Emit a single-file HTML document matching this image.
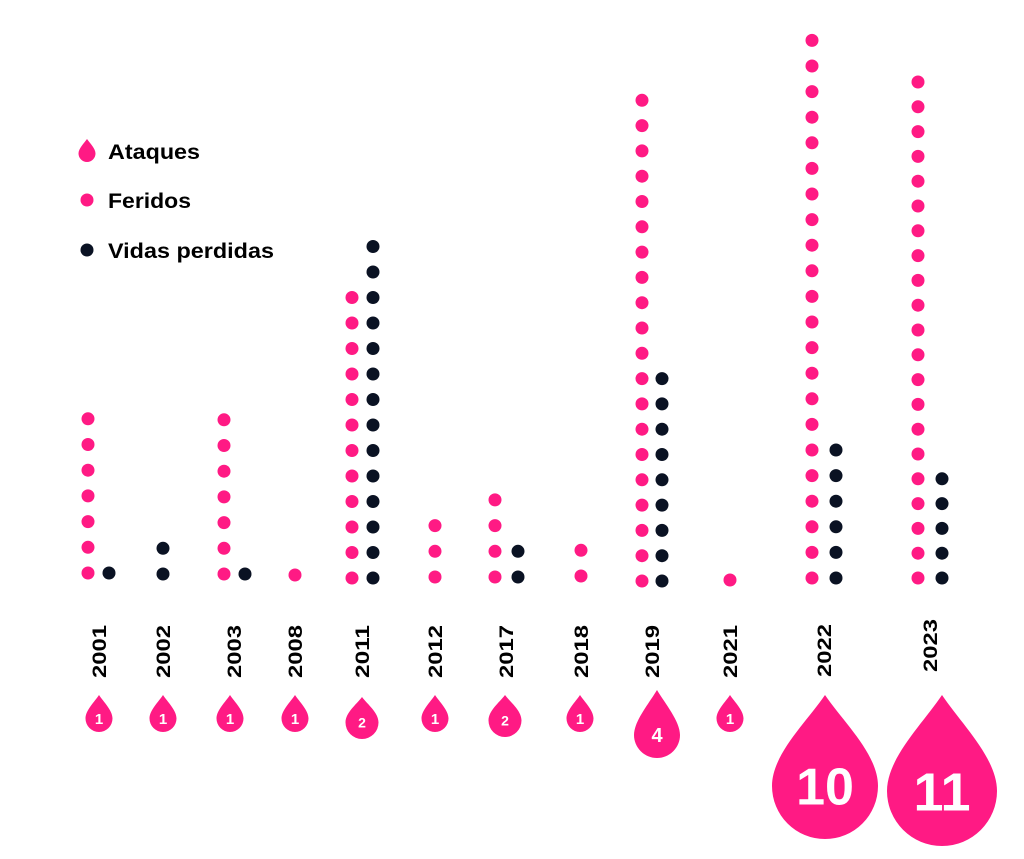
<!DOCTYPE html>
<html><head><meta charset="utf-8"><style>
html,body{margin:0;padding:0;background:#fff;}
svg{display:block;font-family:"Liberation Sans",sans-serif;}
</style></head><body>
<svg id="s" width="1024" height="859" viewBox="0 0 1024 859" xmlns="http://www.w3.org/2000/svg">
<text x="108" y="159" font-size="21" font-weight="bold" fill="#000" textLength="92" lengthAdjust="spacingAndGlyphs">Ataques</text>
<text x="108" y="208" font-size="21" font-weight="bold" fill="#000" textLength="83" lengthAdjust="spacingAndGlyphs">Feridos</text>
<text x="108" y="258" font-size="21" font-weight="bold" fill="#000" textLength="166" lengthAdjust="spacingAndGlyphs">Vidas perdidas</text>
<circle cx="87" cy="200" r="6.5" fill="#ff1a84"/>
<circle cx="87" cy="250" r="6.5" fill="#0a1223"/>
</svg>
<script>
var s=document.getElementById('s'),NS='http://www.w3.org/2000/svg';
var P='#ff1a84',D='#0a1223';
function el(t,a,txt){var e=document.createElementNS(NS,t);for(var k in a)e.setAttribute(k,a[k]);if(txt!=null)e.textContent=txt;s.appendChild(e);return e;}
function col(x,bottom,n,step,c){for(var i=0;i<n;i++)el('circle',{cx:x,cy:bottom-i*step,r:6.5,fill:c});}
function drop(cx,ty,w,h){var r=w/2,cy=ty+h-r,k=h-r;
 var d='M'+cx+','+ty+' C'+(cx+0.35*r)+','+(ty+0.3*k)+' '+(cx+r)+','+(cy-0.6*r)+' '+(cx+r)+','+cy+
 ' A'+r+','+r+' 0 0 1 '+(cx-r)+','+cy+' C'+(cx-r)+','+(cy-0.6*r)+' '+(cx-0.35*r)+','+(ty+0.3*k)+' '+cx+','+ty+' Z';
 el('path',{d:d,fill:P});return cy;}
drop(87,139,17,23);
var data=[
 ['2001',99,88,7,109,1,573,25.7,99,695,27,37,15,'1',678],
 ['2002',163,0,0,163,2,574,25.7,163,695,27,37,15,'1',678],
 ['2003',234,224,7,245,1,574,25.7,230,695,27,37,15,'1',678],
 ['2008',295,295,1,0,0,575,25.7,295,695,27,37,15,'1',678],
 ['2011',362,352,12,373,14,578,25.5,362,697,33,42,14,'2',678],
 ['2012',435,435,3,0,0,577,25.7,435,695,27,37,15,'1',678],
 ['2017',506,495,4,518,2,577,25.7,505,695,33,42,14,'2',678],
 ['2018',581,581,2,0,0,576,25.7,580,695,27,37,15,'1',678],
 ['2019',652,642,20,662,9,581,25.3,657,690,46,68,20,'4',678],
 ['2021',730,730,1,0,0,580,25.7,730,695,27,37,15,'1',678],
 ['2022',824,812,22,836,6,578,25.6,825,695,106,144,52,'10',677],
 ['2023',930,918,21,942,5,578,24.8,942,695,110,151,54,'11',672]
];
data.forEach(function(d){
 if(d[3])col(d[2],d[6],d[3],d[7],P);
 if(d[5])col(d[4],d[6],d[5],d[7],D);
 el('text',{x:0,y:0,'font-size':19,'font-weight':'bold',fill:'#000','text-anchor':'start',textLength:53,lengthAdjust:'spacingAndGlyphs',
  transform:'translate('+(d[1]+7)+','+d[14]+') rotate(-90)'},d[0]);
 var cy=drop(d[8],d[9],d[10],d[11]);
 el('text',{x:d[8],y:cy+d[12]*0.36,'font-size':d[12],'font-weight':'bold',fill:'#fff','text-anchor':'middle'},d[13]);
});
</script>
</body></html>
